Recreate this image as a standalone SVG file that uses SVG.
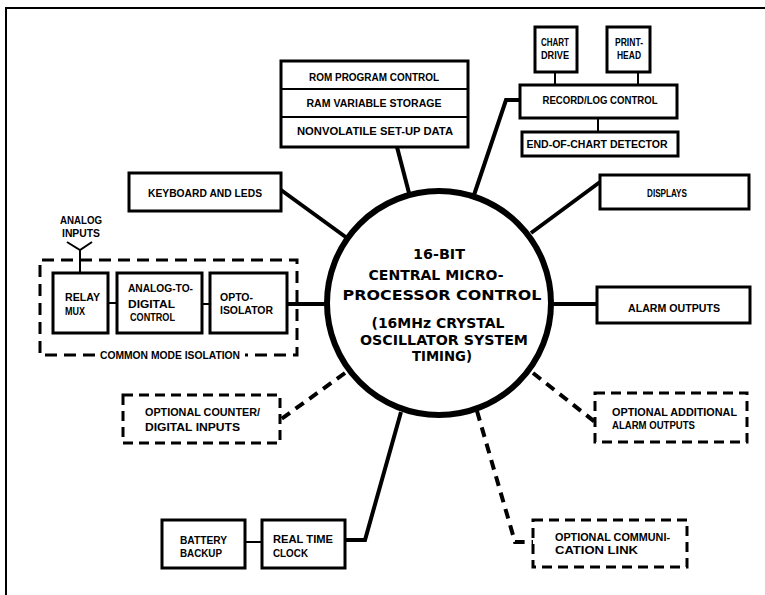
<svg xmlns="http://www.w3.org/2000/svg" width="765" height="595" viewBox="0 0 765 595">
<style>
.box{fill:#fff;stroke:#000;stroke-width:3}
.dbox{fill:#fff;stroke:#000;stroke-width:3;stroke-dasharray:10 6}
.t{font-family:"Liberation Sans",Arial,sans-serif;font-weight:bold;font-size:11px;fill:#000}
.m{text-anchor:middle}
.c{font-family:"DejaVu Sans",sans-serif;font-weight:bold;font-size:14px;text-anchor:middle;fill:#000}
.ln{stroke:#000;stroke-width:4;fill:none}
.thin{stroke-width:2}
.dash{stroke-dasharray:10 7}
</style>
<rect width="765" height="595" fill="#fff"/>
<g id="frame">
<path d="M6 595 V8 H765" fill="none" stroke="#000" stroke-width="2"/>
</g>
<g id="connectors">
<line class="ln" x1="397" y1="147" x2="409" y2="193"/>
<polyline class="ln" points="474,195 506,100 520,100"/>
<line class="ln" x1="281" y1="190" x2="347" y2="238"/>
<line class="ln" x1="600" y1="182" x2="531" y2="233"/>
<line class="ln" stroke-width="5" x1="287" y1="304" x2="328" y2="304"/>
<line class="ln" stroke-width="5" x1="550" y1="304" x2="597" y2="304"/>
<line class="ln dash" x1="345" y1="373" x2="280" y2="420"/>
<line class="ln dash" x1="533" y1="373" x2="595" y2="422"/>
<polyline class="ln dash" points="477,411 515,542 533,542"/>
<polyline class="ln" points="401,412 365,540 345,540"/>
<line class="ln thin" x1="555" y1="72" x2="555" y2="85"/>
<line class="ln thin" x1="638" y1="72" x2="638" y2="85"/>
<line class="ln thin" x1="598" y1="118" x2="598" y2="132"/>
<line class="ln thin" x1="108" y1="303" x2="117" y2="303"/>
<line class="ln thin" x1="202" y1="304" x2="210" y2="304"/>
<line class="ln thin" x1="245" y1="542" x2="262" y2="542"/>
<polyline class="ln thin" points="67,242 80,250 92,242"/>
<line class="ln thin" x1="80" y1="250" x2="80" y2="273"/>
</g>
<g id="cpu">
<circle cx="439" cy="303" r="112" fill="#fff" stroke="#000" stroke-width="6"/>
<text class="c" x="439" y="259" textLength="52" lengthAdjust="spacingAndGlyphs">16-BIT</text>
<text class="c" x="436" y="280" textLength="135" lengthAdjust="spacingAndGlyphs">CENTRAL MICRO-</text>
<text class="c" x="442" y="300" textLength="199" lengthAdjust="spacingAndGlyphs">PROCESSOR CONTROL</text>
<text class="c" x="438" y="328" textLength="133" lengthAdjust="spacingAndGlyphs">(16MHz CRYSTAL</text>
<text class="c" x="444" y="345" textLength="168" lengthAdjust="spacingAndGlyphs">OSCILLATOR SYSTEM</text>
<text class="c" x="442" y="361" textLength="60" lengthAdjust="spacingAndGlyphs">TIMING)</text>
</g>
<g id="memory">
<rect class="box" x="281" y="61" width="187" height="86"/>
<line stroke="#000" stroke-width="2" x1="281" y1="89" x2="468" y2="89"/>
<line stroke="#000" stroke-width="2" x1="281" y1="117" x2="468" y2="117"/>
<text class="t m" x="374" y="81" textLength="130" lengthAdjust="spacingAndGlyphs">ROM PROGRAM CONTROL</text>
<text class="t m" x="374" y="107" textLength="135" lengthAdjust="spacingAndGlyphs">RAM VARIABLE STORAGE</text>
<text class="t m" x="375" y="135" textLength="156" lengthAdjust="spacingAndGlyphs">NONVOLATILE SET-UP DATA</text>
</g>
<g id="chart-drive">
<rect class="box" x="535" y="27" width="42" height="45"/>
<text class="t m" x="555" y="46" textLength="28" lengthAdjust="spacingAndGlyphs">CHART</text>
<text class="t m" x="555" y="59" textLength="28" lengthAdjust="spacingAndGlyphs">DRIVE</text>
</g>
<g id="print-head">
<rect class="box" x="607" y="27" width="43" height="45"/>
<text class="t m" x="629" y="46" textLength="28" lengthAdjust="spacingAndGlyphs">PRINT-</text>
<text class="t m" x="629" y="59" textLength="24" lengthAdjust="spacingAndGlyphs">HEAD</text>
</g>
<g id="record-log">
<rect class="box" x="520" y="85" width="157" height="33"/>
<text class="t m" x="600" y="104" textLength="115" lengthAdjust="spacingAndGlyphs">RECORD/LOG CONTROL</text>
</g>
<g id="end-of-chart">
<rect class="box" x="522" y="132" width="156" height="24"/>
<text class="t m" x="597" y="148" textLength="141" lengthAdjust="spacingAndGlyphs">END-OF-CHART DETECTOR</text>
</g>
<g id="keyboard">
<rect class="box" x="129" y="173" width="152" height="38"/>
<text class="t m" x="205" y="197" textLength="114" lengthAdjust="spacingAndGlyphs">KEYBOARD AND LEDS</text>
</g>
<g id="displays">
<rect class="box" x="600" y="175" width="149" height="34"/>
<text class="t m" x="667" y="197" textLength="40" lengthAdjust="spacingAndGlyphs">DISPLAYS</text>
</g>
<g id="analog-inputs">
<text class="t m" x="81" y="224" textLength="42" lengthAdjust="spacingAndGlyphs">ANALOG</text>
<text class="t m" x="81" y="237" textLength="38" lengthAdjust="spacingAndGlyphs">INPUTS</text>
</g>
<g id="common-mode-isolation">
<path d="M95 355 H40 V260 H297 V355 H245" fill="none" stroke="#000" stroke-width="3" stroke-dasharray="12 7"/>
<text class="t m" x="170" y="359" textLength="140" lengthAdjust="spacingAndGlyphs">COMMON MODE ISOLATION</text>
</g>
<g id="relay-mux">
<rect class="box" x="53" y="273" width="55" height="60"/>
<text class="t" x="65" y="301" textLength="35" lengthAdjust="spacingAndGlyphs">RELAY</text>
<text class="t" x="65" y="315" textLength="20" lengthAdjust="spacingAndGlyphs">MUX</text>
</g>
<g id="adc">
<rect class="box" x="117" y="273" width="85" height="60"/>
<text class="t" x="128" y="292" textLength="65" lengthAdjust="spacingAndGlyphs">ANALOG-TO-</text>
<text class="t" x="128" y="308" textLength="47" lengthAdjust="spacingAndGlyphs">DIGITAL</text>
<text class="t" x="130" y="321" textLength="45" lengthAdjust="spacingAndGlyphs">CONTROL</text>
</g>
<g id="opto-isolator">
<rect class="box" x="210" y="273" width="77" height="60"/>
<text class="t" x="220" y="301" textLength="33" lengthAdjust="spacingAndGlyphs">OPTO-</text>
<text class="t" x="220" y="314" textLength="53" lengthAdjust="spacingAndGlyphs">ISOLATOR</text>
</g>
<g id="alarm-outputs">
<rect class="box" x="597" y="287" width="153" height="36"/>
<text class="t m" x="674" y="312" textLength="92" lengthAdjust="spacingAndGlyphs">ALARM OUTPUTS</text>
</g>
<g id="optional-counter">
<rect class="dbox" x="123" y="395" width="157" height="48"/>
<text class="t" x="145" y="416" textLength="115" lengthAdjust="spacingAndGlyphs">OPTIONAL COUNTER/</text>
<text class="t" x="145" y="431" textLength="95" lengthAdjust="spacingAndGlyphs">DIGITAL INPUTS</text>
</g>
<g id="optional-additional-alarm">
<rect class="dbox" x="595" y="393" width="152" height="49"/>
<text class="t" x="612" y="416" textLength="125" lengthAdjust="spacingAndGlyphs">OPTIONAL ADDITIONAL</text>
<text class="t" x="612" y="429" textLength="83" lengthAdjust="spacingAndGlyphs">ALARM OUTPUTS</text>
</g>
<g id="battery-backup">
<rect class="box" x="162" y="520" width="83" height="48"/>
<text class="t" x="180" y="544" textLength="47" lengthAdjust="spacingAndGlyphs">BATTERY</text>
<text class="t" x="180" y="557" textLength="42" lengthAdjust="spacingAndGlyphs">BACKUP</text>
</g>
<g id="real-time-clock">
<rect class="box" x="262" y="520" width="83" height="48"/>
<text class="t" x="273" y="543" textLength="60" lengthAdjust="spacingAndGlyphs">REAL TIME</text>
<text class="t" x="273" y="557" textLength="35" lengthAdjust="spacingAndGlyphs">CLOCK</text>
</g>
<g id="optional-communication">
<rect class="dbox" x="533" y="520" width="154" height="47"/>
<text class="t" x="555" y="541" textLength="115" lengthAdjust="spacingAndGlyphs">OPTIONAL COMMUNI-</text>
<text class="t" x="555" y="554" textLength="83" lengthAdjust="spacingAndGlyphs">CATION LINK</text>
</g>
</svg>
